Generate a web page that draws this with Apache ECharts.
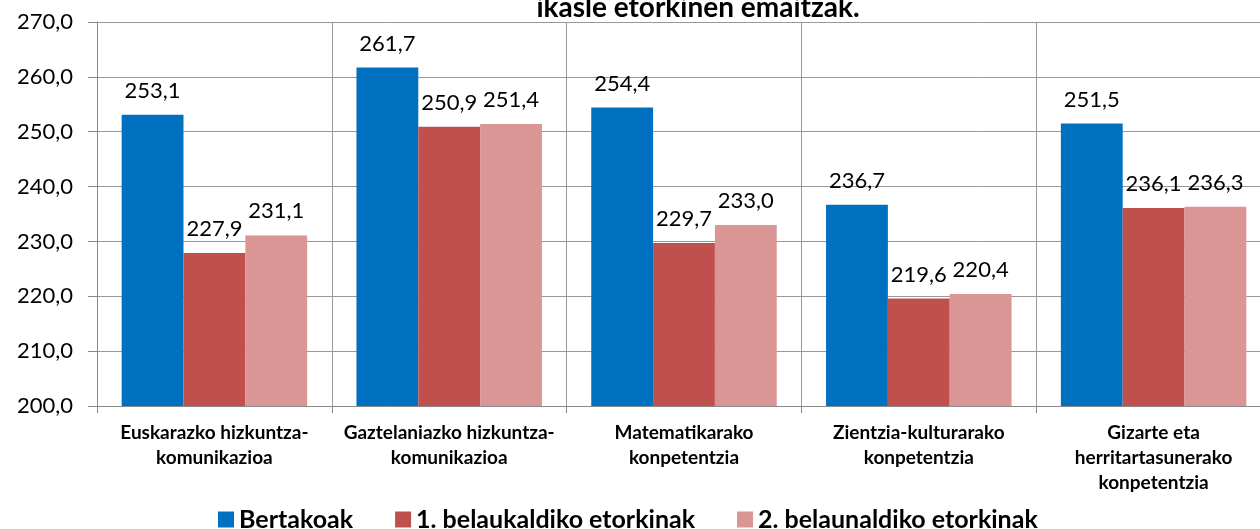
<!DOCTYPE html>
<html>
<head>
<meta charset="utf-8">
<script src="https://cdn.jsdelivr.net/npm/echarts@6/dist/echarts.min.js"></script>
<style>
  html, body { margin: 0; padding: 0; background: #fff; overflow: hidden; }
  #chart { width: 1300px; height: 529px; }
</style>
</head>
<body>
<div id="chart"></div>
<script>
// emaitzak gaitasunka

const categories = [
    'Euskarazko hizkuntza-\nkomunikazioa',
    'Gaztelaniazko hizkuntza-\nkomunikazioa',
    'Matematikarako\nkonpetentzia',
    'Zientzia-kulturarako\nkonpetentzia',
    'Gizarte eta\nherritartasunerako\nkonpetentzia'
];
const seriesNames = ['Bertakoak', '1. belaukaldiko etorkinak', '2. belaunaldiko etorkinak'];
const bertakoak = [253.1, 261.7, 254.4, 236.7, 251.5];
const lehenBelaunaldia = [227.9, 250.9, 229.7, 219.6, 236.1];
const bigarrenBelaunaldia = [231.1, 251.4, 233.0, 220.4, 236.3];
const colors = ['#0070C0', '#C0504D', '#D99694'];

const font = 'Lato, "Open Sans", sans-serif';

function fmt(v) {
    return v.toFixed(1).replace('.', ',');
}

function makeSeries(name, data, color) {
    return {
        name: name,
        type: 'bar',
        data: data,
        barGap: '0%',
        barCategoryGap: '21%',
        itemStyle: { color: color },
        label: {
            show: true,
            position: 'top',
            distance: 13,
            color: '#000',
            fontFamily: font,
            fontSize: 22,
            formatter: (p) => fmt(p.value)
        }
    };
}

const option = {
    animation: false,
    title: {
        text: 'ikasle etorkinen emaitzak.',
        left: 693,
        textAlign: 'center',
        top: -11,
        textStyle: { fontFamily: font, fontSize: 28, fontWeight: 'bold', color: '#000' }
    },
    legend: {
        data: seriesNames,
        left: 213,
        top: 502,
        itemWidth: 16,
        itemHeight: 16,
        itemGap: 42,
        icon: 'rect',
        textStyle: { fontFamily: font, fontSize: 25, fontWeight: 'bold', color: '#000' }
    },
    grid: { left: 97, top: 22, width: 1174, height: 384 },
    xAxis: {
        type: 'category',
        data: categories,
        axisLine: { lineStyle: { color: '#888', width: 1 } },
        axisTick: { show: true, length: 7, lineStyle: { color: '#888' } },
        splitLine: { show: true, lineStyle: { color: '#999', width: 1 } },
        axisLabel: {
            margin: 14,
            fontFamily: font,
            fontSize: 19,
            fontWeight: 'bold',
            color: '#000',
            lineHeight: 25,
            interval: 0
        }
    },
    yAxis: {
        type: 'value',
        min: 200,
        max: 270,
        interval: 10,
        axisLine: { show: true, lineStyle: { color: '#888', width: 1 } },
        axisTick: { show: true, length: 9, lineStyle: { color: '#888' } },
        splitLine: { show: true, lineStyle: { color: '#999', width: 1 } },
        axisLabel: {
            margin: 24,
            fontFamily: font,
            fontSize: 22,
            color: '#000',
            formatter: (v) => fmt(v)
        }
    },
    series: [
        makeSeries(seriesNames[0], bertakoak, colors[0]),
        makeSeries(seriesNames[1], lehenBelaunaldia, colors[1]),
        makeSeries(seriesNames[2], bigarrenBelaunaldia, colors[2])
    ]
};

echarts.init(document.getElementById('chart')).setOption(option);
</script>
</body>
</html>
